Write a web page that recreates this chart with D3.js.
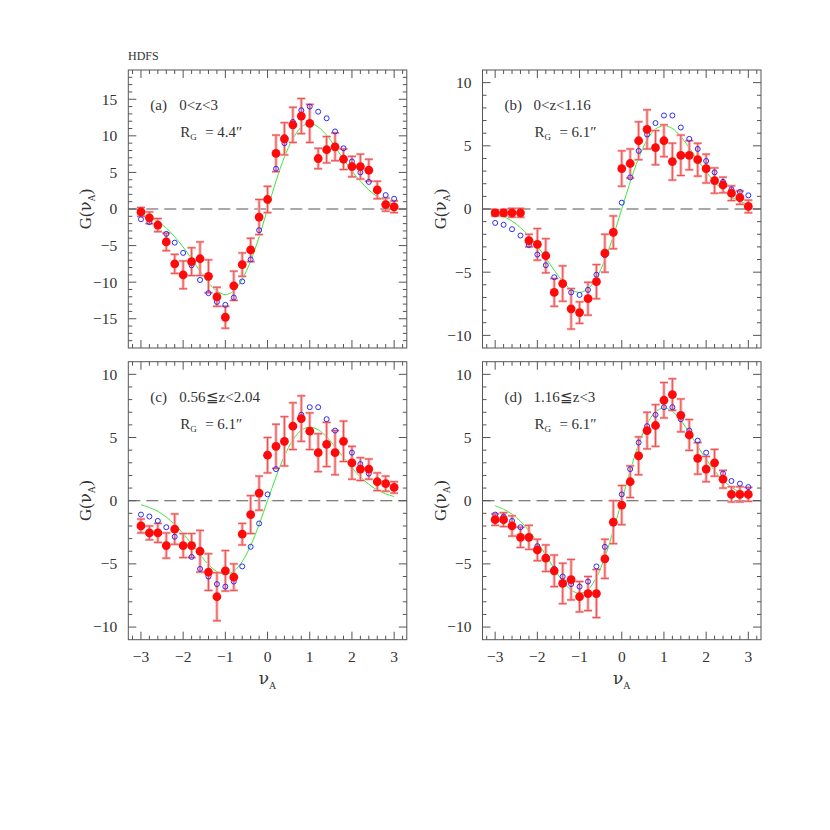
<!DOCTYPE html>
<html><head><meta charset="utf-8">
<script src="https://cdn.jsdelivr.net/npm/d3@7"></script>
<style>body{margin:0;background:#fff}svg{display:block}</style>
</head><body>
<script>
// ---- data ----
const nu = [-3,-2.8,-2.6,-2.4,-2.2,-2,-1.8,-1.6,-1.4,-1.2,-1,-0.8,-0.6,-0.4,-0.2,0,0.2,0.4,0.6,0.8,1,1.2,1.4,1.6,1.8,2,2.2,2.4,2.6,2.8,3];
const xTickLabels = [-3,-2,-1,0,1,2,3];

const redA = [-0.4,-1.2,-2.2,-4.5,-7.5,-9.0,-7.2,-6.8,-9.2,-12.0,-14.8,-10.5,-7.6,-5.6,-1.1,1.3,7.6,9.6,11.5,12.7,11.7,6.9,8.1,8.5,6.8,5.8,5.8,5.3,2.6,0.6,0.3];
const errA = [0.6,0.8,0.9,1.2,1.3,1.9,1.9,2.3,2.25,1.3,1.5,2.0,1.6,1.6,2.4,1.8,2.5,2.2,2.4,2.4,2.6,1.4,1.8,1.9,1.4,1.4,1.7,1.5,1.2,0.9,0.8];
const blueA = [-1.4,-1.8,-2.3,-3.4,-4.6,-6.0,-7.7,-9.7,-11.5,-12.7,-13.1,-12.1,-9.9,-6.9,-2.9,1.4,5.5,9.0,11.9,13.5,14.0,13.3,12.4,10.6,8.3,6.5,5.0,3.7,2.5,1.9,1.4];
const greenA = [-0.6,-1.1,-1.7,-2.6,-3.8,-5.2,-6.8,-8.5,-10.1,-11.2,-11.7,-11.2,-9.6,-7.1,-3.8,0,3.8,7.1,9.6,11.2,11.7,11.2,10.1,8.5,6.8,5.2,3.8,2.6,1.7,1.1,0.6];

const redB = [-0.3,-0.3,-0.3,-0.3,-2.5,-2.8,-3.7,-6.6,-5.9,-7.9,-8.2,-7.1,-5.75,-3.5,-1.85,3.2,3.6,5.4,6.3,4.85,5.4,3.75,4.25,4.25,3.9,3.2,2.25,1.9,1.25,0.9,0.2];
const errB = [0.25,0.25,0.35,0.35,0.5,1.25,1.35,1.1,1.4,1.6,0.85,1.3,1.35,1.5,1.3,1.4,1.15,1.5,1.55,1.35,1.26,1.46,1.6,1.15,1.3,1.14,1.0,0.62,0.58,0.53,0.5];
const greenB = [-0.36,-0.61,-0.96,-1.47,-2.14,-2.95,-3.88,-4.85,-5.73,-6.37,-6.6,-6.33,-5.46,-4.02,-2.14,0,2.14,4.02,5.46,6.33,6.6,6.37,5.73,4.85,3.88,2.95,2.14,1.47,0.96,0.61,0.36];

const redC = [-2.0,-2.55,-2.55,-3.55,-2.25,-3.55,-3.55,-4.0,-5.65,-7.6,-5.55,-6.05,-2.65,-1.1,0.6,3.6,4.3,4.7,5.9,6.5,5.5,3.8,4.45,3.8,4.7,3.0,2.5,2.5,1.5,1.35,1.05];
const errC = [0.55,0.55,0.75,1.0,1.2,0.95,0.95,1.65,1.45,1.9,1.6,1.05,0.85,1.5,1.35,1.4,1.75,1.95,1.85,1.8,1.45,1.5,1.75,1.75,1.6,1.3,0.9,0.8,0.7,0.6,0.45];
const greenC = [-0.32,-0.54,-0.84,-1.3,-1.88,-2.6,-3.42,-4.27,-5.05,-5.61,-5.82,-5.58,-4.81,-3.54,-1.88,0,1.88,3.54,4.81,5.58,5.82,5.61,5.05,4.27,3.42,2.6,1.88,1.3,0.84,0.54,0.32];

const redD = [-1.5,-1.5,-2.0,-2.9,-2.9,-3.9,-4.55,-5.55,-6.55,-6.25,-7.6,-7.35,-7.35,-4.6,-1.7,-0.35,1.5,3.55,5.55,5.95,7.95,8.4,6.75,5.2,3.35,2.5,3.0,1.7,0.5,0.5,0.5];
const errD = [0.45,0.55,0.8,0.8,0.95,0.85,1.05,1.25,1.6,1.6,1.2,1.35,1.9,1.55,1.7,1.55,1.25,1.5,1.45,1.65,1.4,1.25,1.3,1.22,1.25,1.0,1.06,0.7,0.6,0.6,0.55];
const greenD = [-0.4,-0.68,-1.06,-1.63,-2.37,-3.28,-4.31,-5.38,-6.36,-7.07,-7.34,-7.03,-6.06,-4.47,-2.37,0,2.37,4.47,6.06,7.03,7.34,7.07,6.36,5.38,4.31,3.28,2.37,1.63,1.06,0.68,0.4];

// gaussian reference for R_G = 6.1" (same in b, c, d)
const blue61 = [-1.1,-1.25,-1.6,-2.1,-2.85,-3.6,-4.45,-5.4,-6.0,-6.6,-6.8,-6.4,-5.2,-3.65,-1.8,0.5,2.5,4.6,5.9,6.8,7.4,7.4,6.45,5.55,4.75,3.8,2.9,2.15,1.56,1.35,1.08];

const yTicksA = [-15,-10,-5,0,5,10,15];
const yTicksBCD = [-10,-5,0,5,10];
const panelIds = ["(a)","(b)","(c)","(d)"];
const zRanges = ["0<z<3","0<z<1.16","0.56≦z<2.04","1.16≦z<3"];
const rgValues = ["4.4″","6.1″","6.1″","6.1″"];
const yLimits = [19,11,11,11];
const title = "HDFS";

// ---- layout ----
const W = 830, H = 830;
const colX = [128.3, 482.5], rowY = [70, 361.7];
const PW = 278.5, PH = 278;
const FONT = "'Liberation Serif','Times New Roman','DejaVu Serif',serif";
const GREEK = "'DejaVu Serif',serif";
const INK = "#333";

const svg = d3.select("body").append("svg").attr("width",W).attr("height",H)
  .style("background","#fff");

const panels = [
  {red:redA, err:errA, blue:blueA, green:greenA, yt:yTicksA},
  {red:redB, err:errB, blue:blue61, green:greenB, yt:yTicksBCD},
  {red:redC, err:errC, blue:blue61, green:greenC, yt:yTicksBCD},
  {red:redD, err:errD, blue:blue61, green:greenD, yt:yTicksBCD}
];

panels.forEach((p,k)=>{
  const col = k%2, row = Math.floor(k/2);
  const x0 = colX[col], y0 = rowY[row];
  const g = svg.append("g").attr("transform",`translate(${x0},${y0})`);
  const x = d3.scaleLinear().domain([-3.3,3.3]).range([0,PW]);
  const lim = yLimits[k];
  const y = d3.scaleLinear().domain([-lim,lim]).range([PH,0]);

  // zero line
  g.append("line").attr("x1",0).attr("x2",PW).attr("y1",y(0)).attr("y2",y(0))
    .attr("stroke","#555").attr("stroke-width",1.1).attr("stroke-dasharray","12,6");

  // green curve
  const line = d3.line().x((d,i)=>x(nu[i])).y(d=>y(d)).curve(d3.curveCatmullRom);
  g.append("path").attr("d",line(p.green)).attr("fill","none")
    .attr("stroke","#3de83d").attr("stroke-width",1);

  // error bars
  const eb = g.append("g");
  p.red.forEach((v,i)=>{
    const xi = x(nu[i]), yt = y(v+p.err[i]), yb = y(v-p.err[i]);
    eb.append("line").attr("x1",xi).attr("x2",xi).attr("y1",yt).attr("y2",yb)
      .attr("stroke","#f8b0b0").attr("stroke-width",3);
    [yt,yb].forEach(yy=>eb.append("line").attr("x1",xi-4).attr("x2",xi+4)
      .attr("y1",yy).attr("y2",yy).attr("stroke","#f8b0b0").attr("stroke-width",2.5));
    eb.append("line").attr("x1",xi).attr("x2",xi).attr("y1",yt).attr("y2",yb)
      .attr("stroke","#ec4444").attr("stroke-width",0.9);
    [yt,yb].forEach(yy=>eb.append("line").attr("x1",xi-4).attr("x2",xi+4)
      .attr("y1",yy).attr("y2",yy).attr("stroke","#ec4444").attr("stroke-width",0.9));
  });

  // blue open circles
  g.append("g").selectAll("circle").data(p.blue).join("circle")
    .attr("cx",(d,i)=>x(nu[i])).attr("cy",d=>y(d)).attr("r",2.5)
    .attr("fill","none").attr("stroke","#2b2bff").attr("stroke-width",1);

  // red dots
  g.append("g").selectAll("circle").data(p.red).join("circle")
    .attr("cx",(d,i)=>x(nu[i])).attr("cy",d=>y(d)).attr("r",4.4)
    .attr("fill","#ff0a0a");

  // frame
  g.append("rect").attr("width",PW).attr("height",PH).attr("fill","none")
    .attr("stroke","#555").attr("stroke-width",1);

  // ticks
  const tk = g.append("g").attr("stroke","#555").attr("stroke-width",1);
  d3.range(-16,17).map(v=>v/5).forEach(v=>{
    const major = Math.abs(v-Math.round(v))<1e-6;
    const L = major?8:4, xi = x(v);
    tk.append("line").attr("x1",xi).attr("x2",xi).attr("y1",PH).attr("y2",PH-L);
    tk.append("line").attr("x1",xi).attr("x2",xi).attr("y1",0).attr("y2",L);
  });
  d3.range(-lim+1,lim).forEach(v=>{
    const major = v%5===0;
    const L = major?8:4, yi = y(v);
    tk.append("line").attr("x1",0).attr("x2",L).attr("y1",yi).attr("y2",yi);
    tk.append("line").attr("x1",PW).attr("x2",PW-L).attr("y1",yi).attr("y2",yi);
  });

  // y tick labels
  g.append("g").selectAll("text").data(p.yt).join("text")
    .attr("x",-11).attr("y",d=>y(d)).attr("dy","0.35em")
    .attr("text-anchor","end").attr("font-family",FONT).attr("font-size",15.5)
    .attr("fill",INK).text(d=>d3.format("")(d));

  // x tick labels (bottom row)
  if(row===1){
    g.append("g").selectAll("text").data(xTickLabels).join("text")
      .attr("x",d=>x(d)).attr("y",PH+22).attr("text-anchor","middle")
      .attr("font-family",FONT).attr("font-size",15.5).attr("fill",INK)
      .text(d=>d3.format("")(d));
    const xl = g.append("text").attr("x",x(0)).attr("y",PH+44)
      .attr("text-anchor","middle").attr("font-family",GREEK).attr("font-size",17).attr("fill",INK);
    xl.append("tspan").text("ν");
    xl.append("tspan").attr("font-family",FONT).attr("font-size",10).attr("dy",5).text("A");
  }

  // y axis label
  const yl = g.append("text").attr("transform",`translate(-37,${PH/2}) rotate(-90)`)
    .attr("text-anchor","middle").attr("font-family",FONT).attr("font-size",17).attr("fill",INK);
  yl.append("tspan").text("G(");
  yl.append("tspan").attr("font-family",GREEK).attr("font-size",16).text("ν");
  yl.append("tspan").attr("font-size",10).attr("dy",4).text("A");
  yl.append("tspan").attr("dy",-4).text(")");

  // panel labels
  g.append("text").attr("x",22).attr("y",40).attr("font-family",FONT).attr("font-size",15)
    .attr("fill",INK).text(panelIds[k]);
  g.append("text").attr("x",51).attr("y",40).attr("font-family",FONT).attr("font-size",15)
    .attr("fill",INK).text(zRanges[k]);
  const rg = g.append("text").attr("x",52).attr("y",67).attr("font-family",FONT).attr("font-size",15).attr("fill",INK);
  rg.append("tspan").text("R");
  rg.append("tspan").attr("font-size",9).attr("dy",3).text("G");
  g.append("text").attr("x",77).attr("y",67).attr("font-family",FONT).attr("font-size",15).attr("fill",INK).text("=");
  g.append("text").attr("x",89).attr("y",67).attr("font-family",FONT).attr("font-size",15).attr("fill",INK).text(rgValues[k]);
});

svg.append("text").attr("x",128).attr("y",60).attr("font-family",FONT).attr("font-size",12)
  .attr("fill",INK).text(title);
</script>
</body></html>
